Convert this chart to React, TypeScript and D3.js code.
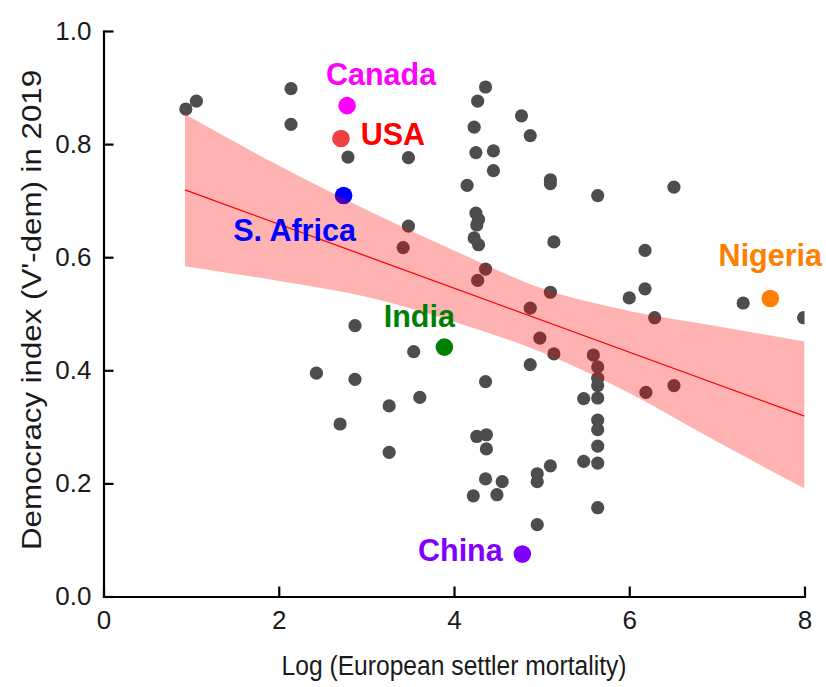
import * as d3 from 'd3';
import React, { useEffect, useRef } from 'react';

// axis ticks
const xTicks = [0, 2, 4, 6, 8];
const yTicks = [0, 0.2, 0.4, 0.6, 0.8, 1.0];

// other countries: log settler mortality / democracy index
const mortality = [
  0.94, 1.06, 2.14, 2.14, 2.79, 3.48, 4.36, 4.27, 4.23, 4.25, 4.45, 4.45, 4.15, 4.77, 4.87,
  5.10, 5.10, 5.64, 6.51, 4.25, 4.28, 4.26, 4.23, 4.28, 3.48, 5.14, 3.42, 4.36, 4.27, 5.10,
  4.87, 6.18, 6.18, 6.00, 7.30, 6.29, 7.99, 2.87, 3.54, 4.36, 4.87, 4.98, 5.14, 3.61, 3.26,
  3.26, 2.43, 2.87, 2.70, 4.26, 4.37, 4.37, 4.36, 4.55, 4.49, 4.22, 5.10, 4.95, 4.95, 4.95,
  5.48, 5.48, 5.59, 5.64, 5.64, 5.64, 5.64, 5.64, 5.64, 5.64, 5.64, 5.64, 6.19, 6.51,
];
const democracy = [
  0.862, 0.876, 0.898, 0.835, 0.777, 0.776, 0.901, 0.876, 0.830, 0.785, 0.788, 0.753, 0.727, 0.850, 0.815,
  0.737, 0.730, 0.709, 0.724, 0.678, 0.667, 0.657, 0.634, 0.622, 0.655, 0.627, 0.617, 0.579, 0.559, 0.538,
  0.510, 0.612, 0.544, 0.528, 0.519, 0.493, 0.493, 0.479, 0.433, 0.380, 0.410, 0.457, 0.429, 0.352, 0.337,
  0.255, 0.395, 0.384, 0.305, 0.283, 0.286, 0.261, 0.208, 0.203, 0.180, 0.178, 0.231, 0.217, 0.203, 0.127,
  0.350, 0.239, 0.427, 0.406, 0.386, 0.373, 0.351, 0.312, 0.295, 0.266, 0.236, 0.157, 0.361, 0.373,
];

// highlighted countries
const countries = ['Canada', 'USA', 'S. Africa', 'India', 'Nigeria', 'China'];
const countryMortality = [2.78, 2.71, 2.74, 3.89, 7.61, 4.78];
const countryDemocracy = [0.868, 0.810, 0.709, 0.441, 0.527, 0.075];
const countryColors = ['#ff00ff', '#ef4040', '#0000ff', '#008000', '#ff8000', '#8000ff'];
const labelColors = ['#ff00ff', '#ff0000', '#0000ff', '#008000', '#ff8000', '#8000ff'];
// label offset from the dot, in px
const labelOffsets = [[34, -21], [52, 7], [-49, 45], [-25, -20], [0, -32], [-62, 7]];

// fitted line and its confidence band
const fitX = [0.93, 8];
const fitY = [0.719, 0.319];
const bandX = [0.93, 2, 3, 4, 5, 6, 7, 8];
const bandUpper = [0.853, 0.762, 0.684, 0.612, 0.545, 0.505, 0.478, 0.451];
const bandLower = [0.584, 0.558, 0.530, 0.486, 0.432, 0.360, 0.274, 0.191];

const WIDTH = 826;
const HEIGHT = 687;
const margin = { top: 31, right: 21.5, bottom: 90.5, left: 103.5 };
const FONT = "'Liberation Sans', Arial, sans-serif";

const App = () => {
  const ref = useRef<SVGSVGElement>(null);

  useEffect(() => {
    const svg = d3.select(ref.current);
    svg.selectAll('*').remove();

    const x = d3.scaleLinear().domain([0, 8]).range([margin.left, WIDTH - margin.right]);
    const y = d3.scaleLinear().domain([0, 1]).range([HEIGHT - margin.bottom, margin.top]);

    svg.append('defs').append('clipPath').attr('id', 'plot-clip')
      .append('rect')
      .attr('x', margin.left).attr('y', margin.top - 10)
      .attr('width', x(8) - margin.left).attr('height', y(0) - margin.top + 10);

    const plot = svg.append('g').attr('clip-path', 'url(#plot-clip)');

    // grey dots
    plot.selectAll('circle.other')
      .data(mortality.map((m, i) => ({ m, d: democracy[i] })))
      .join('circle')
      .attr('class', 'other')
      .attr('cx', (p) => x(p.m))
      .attr('cy', (p) => y(p.d))
      .attr('r', 6.6)
      .attr('fill', '#4d4d4d');

    // highlighted dots
    plot.selectAll('circle.hl')
      .data(countries.map((c, i) => ({ c, m: countryMortality[i], d: countryDemocracy[i], i })))
      .join('circle')
      .attr('class', 'hl')
      .attr('cx', (p) => x(p.m))
      .attr('cy', (p) => y(p.d))
      .attr('r', 8.8)
      .attr('fill', (p) => countryColors[p.i]);

    // confidence band
    const band = d3.area<number>()
      .x((d) => x(d))
      .y0((_, i) => y(bandLower[i]))
      .y1((_, i) => y(bandUpper[i]))
      .curve(d3.curveMonotoneX);
    plot.append('path')
      .attr('d', band(bandX))
      .attr('fill', 'rgba(255, 0, 0, 0.3)');

    // fitted line
    const line = d3.line<number>()
      .x((d) => x(d))
      .y((_, i) => y(fitY[i]));
    plot.append('path')
      .attr('d', line(fitX))
      .attr('fill', 'none')
      .attr('stroke', '#ff0000')
      .attr('stroke-width', 1.3);

    // country labels
    svg.selectAll('text.label')
      .data(countries.map((c, i) => ({ c, i })))
      .join('text')
      .attr('class', 'label')
      .attr('x', (p) => x(countryMortality[p.i]) + labelOffsets[p.i][0])
      .attr('y', (p) => y(countryDemocracy[p.i]) + labelOffsets[p.i][1])
      .attr('text-anchor', 'middle')
      .attr('font-family', FONT)
      .attr('font-weight', 'bold')
      .attr('font-size', 30.5)
      .attr('fill', (p) => labelColors[p.i])
      .text((p) => p.c);

    // axes, ticks pointing inwards
    const xAxis = svg.append('g')
      .attr('transform', `translate(0, ${y(0)})`)
      .call(d3.axisBottom(x).tickValues(xTicks).tickFormat(d3.format('d')).tickSizeInner(-10).tickSizeOuter(0).tickPadding(14));
    const yAxis = svg.append('g')
      .attr('transform', `translate(${x(0)}, 0)`)
      .call(d3.axisLeft(y).tickValues(yTicks).tickFormat(d3.format('.1f')).tickSizeInner(-10).tickSizeOuter(0).tickPadding(12));
    [xAxis, yAxis].forEach((g) => {
      g.select('.domain').attr('stroke', '#000').attr('stroke-width', 2.2).attr('stroke-linecap', 'square');
      g.selectAll('.tick line').attr('stroke', '#000').attr('stroke-width', 2.2);
      g.selectAll('.tick text').attr('font-family', FONT).attr('font-size', 26).attr('fill', '#1a1a1a');
    });

    // axis titles
    svg.append('text')
      .attr('x', (x(0) + x(8)) / 2)
      .attr('y', 675)
      .attr('text-anchor', 'middle')
      .attr('font-family', FONT)
      .attr('font-size', 27)
      .attr('textLength', 345)
      .attr('lengthAdjust', 'spacingAndGlyphs')
      .attr('fill', '#1a1a1a')
      .text('Log (European settler mortality)');
    svg.append('text')
      .attr('transform', `translate(41, 310) rotate(-90)`)
      .attr('text-anchor', 'middle')
      .attr('font-family', FONT)
      .attr('font-size', 27)
      .attr('textLength', 480)
      .attr('lengthAdjust', 'spacingAndGlyphs')
      .attr('fill', '#1a1a1a')
      .text("Democracy index (V'-dem) in 2019");
  }, []);

  return (
    <svg
      ref={ref}
      width={WIDTH}
      height={HEIGHT}
      style={{ position: 'absolute', left: 0, top: 0, background: '#fff' }}
    />
  );
};

export default App;
